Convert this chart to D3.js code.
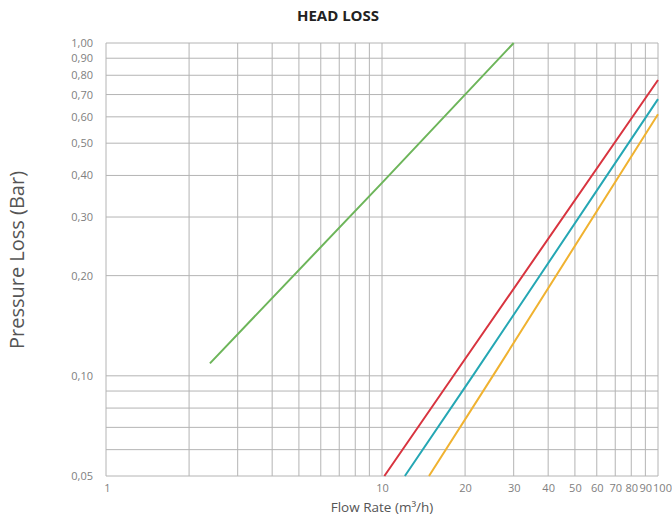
<!DOCTYPE html>
<html>
<head>
<meta charset="utf-8">
<script src="https://cdn.jsdelivr.net/npm/d3@7"></script>
<style>
  body { margin: 0; background: #fff; }
  text { font-family: "Open Sans", "DejaVu Sans", sans-serif; }
</style>
</head>
<body>
<div class="chartwrap"></div>
<script>
var width = 672, height = 516;
var margin = {top: 43, right: 14, bottom: 40, left: 106};

// grid / tick values
var xGrid = [1, 2, 3, 4, 5, 6, 7, 8, 9, 10, 20, 30, 40, 50, 60, 70, 80, 90, 100];
var xLabels = [1, 10, 20, 30, 40, 50, 60, 70, 80, 90, 100];
var yGrid = [0.05, 0.06, 0.07, 0.08, 0.09, 0.10, 0.20, 0.30, 0.40, 0.50, 0.60, 0.70, 0.80, 0.90, 1.00];
var yLabels = [0.05, 0.10, 0.20, 0.30, 0.40, 0.50, 0.60, 0.70, 0.80, 0.90, 1.00];

// curves, [flow m3/h, loss bar]
var greenLine = [[2.38, 0.109], [10, 0.38], [30, 1.00]];
var redLine = [[10.2, 0.05], [18, 0.099], [100, 0.774]];
var cyanLine = [[12.1, 0.05], [21.5, 0.101], [100, 0.678]];
var yellowLine = [[14.8, 0.05], [26, 0.104], [100, 0.611]];

var series = [
    {data: greenLine, color: "#6db55a"},
    {data: redLine, color: "#d8343f"},
    {data: cyanLine, color: "#25a7b4"},
    {data: yellowLine, color: "#f0b230"}
];

var svg = d3.select(".chartwrap").append("svg")
    .attr("width", width)
    .attr("height", height);

var x = d3.scaleLog()
    .domain([1, 100])
    .range([margin.left, width - margin.right]);

var y = d3.scaleLog()
    .domain([0.05, 1])
    .range([height - margin.bottom, margin.top]);

var comma = function(d) { return d3.format(".2f")(d).replace(".", ","); };

// vertical grid
svg.append("g")
    .selectAll("line")
    .data(xGrid)
    .enter().append("line")
    .attr("x1", function(d) { return x(d); })
    .attr("x2", function(d) { return x(d); })
    .attr("y1", margin.top)
    .attr("y2", height - margin.bottom)
    .attr("stroke", "#b4b4b4")
    .attr("stroke-width", 1);

// horizontal grid
svg.append("g")
    .selectAll("line")
    .data(yGrid)
    .enter().append("line")
    .attr("x1", margin.left)
    .attr("x2", width - margin.right)
    .attr("y1", function(d) { return y(d); })
    .attr("y2", function(d) { return y(d); })
    .attr("stroke", "#b4b4b4")
    .attr("stroke-width", 1);

// y axis labels
var yAxis = d3.axisLeft(y)
    .tickValues(yLabels)
    .tickFormat(comma)
    .tickSize(0)
    .tickPadding(13);

svg.append("g")
    .attr("class", "y axis")
    .attr("transform", "translate(" + margin.left + ",0)")
    .call(yAxis)
    .call(function(g) {
        g.select(".domain").remove();
        g.selectAll("text")
            .attr("fill", "#808080")
            .style("font-size", "11px")
            .style("font-family", "'Open Sans', sans-serif");
    });

// x axis labels
var xAxis = d3.axisBottom(x)
    .tickValues(xLabels)
    .tickFormat(d3.format("d"))
    .tickSize(0)
    .tickPadding(8);

svg.append("g")
    .attr("class", "x axis")
    .attr("transform", "translate(0," + (height - margin.bottom) + ")")
    .call(xAxis)
    .call(function(g) {
        g.select(".domain").remove();
        g.selectAll("text")
            .attr("fill", "#808080")
            .style("font-size", "11px")
            .style("font-family", "'Open Sans', sans-serif")
            .attr("dx", function(d) { return d == 100 ? 4 : (d == 1 ? 1 : 0); });
    });

// curves
var line = d3.line()
    .x(function(d) { return x(d[0]); })
    .y(function(d) { return y(d[1]); });

svg.append("g")
    .selectAll("path")
    .data(series)
    .enter().append("path")
    .attr("d", function(d) { return line(d.data); })
    .attr("fill", "none")
    .attr("stroke", function(d) { return d.color; })
    .attr("stroke-width", 2);

// titles
svg.append("text")
    .attr("x", 338)
    .attr("y", 21)
    .style("text-anchor", "middle")
    .style("font-size", "15px")
    .style("font-weight", "bold")
    .attr("fill", "#222")
    .text("HEAD LOSS");

svg.append("text")
    .attr("transform", "translate(24," + 260 + ") rotate(-90)")
    .style("text-anchor", "middle")
    .style("font-size", "20px")
    .attr("fill", "#555")
    .text("Pressure Loss (Bar)");

svg.append("text")
    .attr("x", 382)
    .attr("y", 512)
    .style("text-anchor", "middle")
    .style("font-size", "13.5px")
    .attr("fill", "#555")
    .text("Flow Rate (m³/h)");
</script>
</body>
</html>
